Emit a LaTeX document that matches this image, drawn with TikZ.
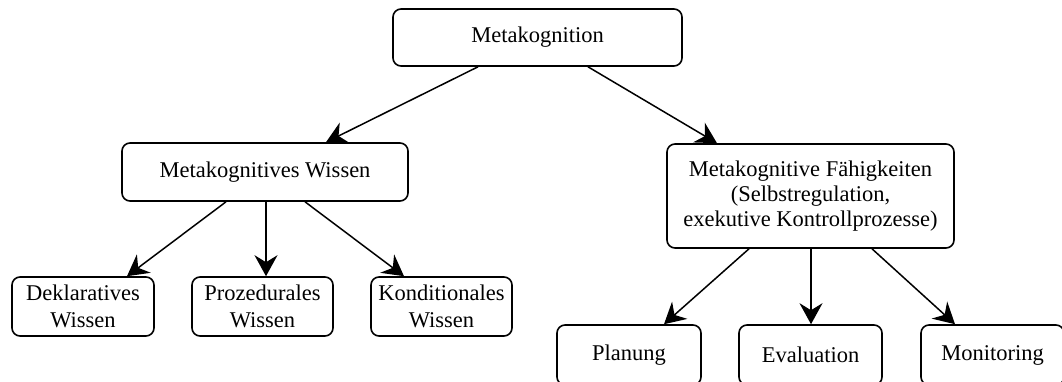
\documentclass[tikz,border=0pt]{standalone}
\usepackage{fontspec}
\setmainfont{Liberation Serif}
\usetikzlibrary{arrows.meta,calc}
\begin{document}
\begin{tikzpicture}[x=1pt,y=-1pt,
  box/.style={draw,line width=1.6pt,rounded corners=8pt,align=center,
    inner sep=0pt,font=\fontsize{22.5}{25}\selectfont},
  twoline/.style={font=\fontsize{22.5}{27}\selectfont},
  link/.style={line width=1.5pt,-{Stealth[length=21pt,width=23pt,inset=7pt]}}]
\path[use as bounding box] (0,0) rectangle (1062,381);
\clip (0,0) rectangle (1062,381);

% root
\node[box,minimum width=289pt,minimum height=57pt] (meta) at (537.5,37.5) {Metakognition};

% second level
\node[box,minimum width=286pt,minimum height=58pt] (wissen) at (265,172) {Metakognitives Wissen};
\node[box,minimum width=287pt,minimum height=104pt] (faeh) at (810.5,196)
  {Metakognitive Fähigkeiten\\(Selbstregulation,\\exekutive Kontrollprozesse)};

% kinds of knowledge
\node[box,twoline,minimum width=142pt,minimum height=59pt] (dekl) at (83,306.5) {Deklaratives\\Wissen};
\node[box,twoline,minimum width=141pt,minimum height=59pt] (proz) at (262.5,306.5) {Prozedurales\\Wissen};
\node[box,twoline,minimum width=141pt,minimum height=59pt] (kond) at (441.5,306.5) {Konditionales\\Wissen};

% skills
\node[box,minimum width=144pt,minimum height=60pt] (plan) at (629,355) {Planung};
\node[box,minimum width=143pt,minimum height=60pt] (eval) at (810.5,355) {Evaluation};
\node[box,minimum width=143pt,minimum height=60pt] (moni) at (992.5,355) {Monitoring};

% connectors
\draw[link] ($(meta.south)+(-59.5,0)$) -- ($(wissen.north)+(61,0)$);
\draw[link] ($(meta.south)+(50.5,0)$) -- ($(faeh.north)+(-93.5,0)$);

\draw[link] ($(wissen.south)+(-39,0)$) -- ($(dekl.north)+(44,0)$);
\draw[link] ($(wissen.south)+(1,0)$) -- ($(proz.north)+(3.5,0)$);
\draw[link] ($(wissen.south)+(40,0)$) -- ($(kond.north)+(-37.5,0)$);

\draw[link] ($(faeh.south)+(-61.5,0)$) -- ($(plan.north)+(35,0)$);
\draw[link] ($(faeh.south)+(0.5,0)$) -- ($(eval.north)+(0.5,0)$);
\draw[link] ($(faeh.south)+(61.5,0)$) -- ($(moni.north)+(-37.5,0)$);
\end{tikzpicture}
\end{document}
